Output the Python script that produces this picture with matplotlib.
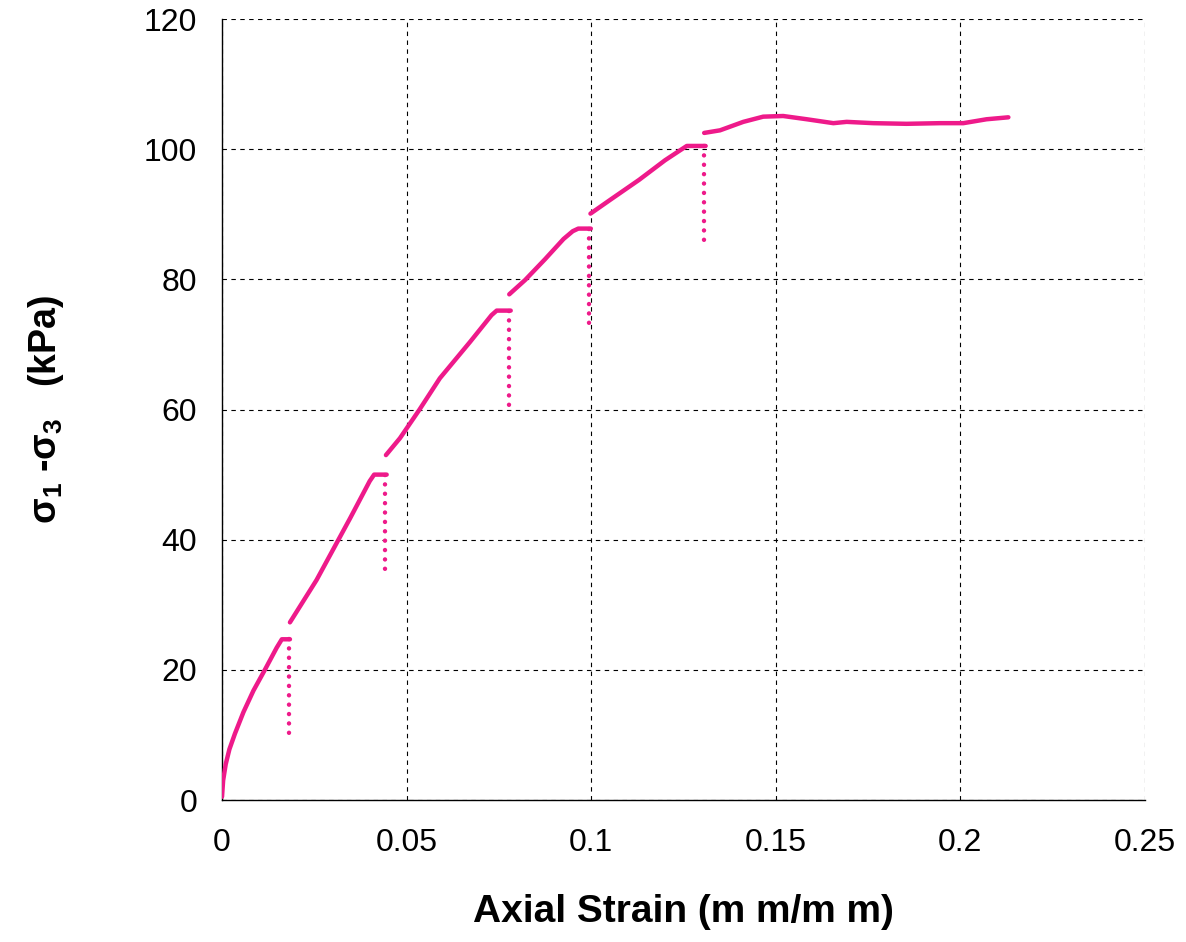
import matplotlib
matplotlib.use("Agg")
import matplotlib.pyplot as plt

plt.rcParams['font.family'] = ['Liberation Sans', 'DejaVu Sans']
plt.rcParams['mathtext.fontset'] = 'custom'
plt.rcParams['mathtext.rm'] = 'Liberation Sans'
plt.rcParams['mathtext.bf'] = 'Liberation Sans:bold'

# Solid loading segments (axial strain, deviator stress kPa)
seg1_x = [0, 0.0003, 0.0010, 0.0020, 0.0035, 0.0058, 0.0085, 0.0116, 0.0148, 0.0162, 0.0184]
seg1_y = [0.5, 3.0, 5.5, 7.8, 10.2, 13.5, 16.8, 20.0, 23.4, 24.7, 24.7]
seg2_x = [0.0184, 0.0256, 0.0347, 0.0400, 0.0412, 0.0446]
seg2_y = [27.3, 33.8, 43.3, 49.0, 50.0, 50.0]
seg3_x = [0.0444, 0.0482, 0.0535, 0.0590, 0.0672, 0.0730, 0.0744, 0.0782]
seg3_y = [53.0, 55.6, 60.0, 64.8, 70.4, 74.5, 75.2, 75.2]
seg4_x = [0.0778, 0.0821, 0.0875, 0.0925, 0.0950, 0.0965, 0.0999]
seg4_y = [77.7, 79.9, 83.1, 86.2, 87.4, 87.8, 87.8]
seg5_x = [0.0998, 0.1051, 0.1130, 0.1200, 0.1240, 0.1259, 0.1310]
seg5_y = [90.1, 92.2, 95.3, 98.3, 99.8, 100.5, 100.5]
seg6_x = [0.1306, 0.1349, 0.1412, 0.1466, 0.1520, 0.1584, 0.1656, 0.1692, 0.1764,
          0.1854, 0.1945, 0.2008, 0.2071, 0.2130]
seg6_y = [102.5, 102.9, 104.2, 105.0, 105.1, 104.6, 104.0, 104.2, 104.0,
          103.9, 104.0, 104.0, 104.6, 104.9]

# Dotted unload drops: strain, top stress, bottom stress
drop_x = [0.0182, 0.0441, 0.0776, 0.0995, 0.1306]
drop_top = [24.7, 50.0, 75.2, 87.8, 100.5]
drop_bot = [9.5, 34.8, 60.1, 72.7, 85.3]

x_ticks = [0, 0.05, 0.1, 0.15, 0.2, 0.25]
x_labels = ['0', '0.05', '0.1', '0.15', '0.2', '0.25']
y_ticks = [0, 20, 40, 60, 80, 100, 120]

color = '#EE1A8A'

fig = plt.figure(figsize=(11.86, 9.42), dpi=100)
ax = fig.add_axes([0.1872, 0.1507, 0.7782, 0.8291])

for sx, sy in [(seg1_x, seg1_y), (seg2_x, seg2_y), (seg3_x, seg3_y),
               (seg4_x, seg4_y), (seg5_x, seg5_y), (seg6_x, seg6_y)]:
    ax.plot(sx, sy, color=color, lw=3.2, solid_capstyle='round', solid_joinstyle='round', zorder=3)

for dx, dt, db in zip(drop_x, drop_top, drop_bot):
    ax.plot([dx, dx], [dt, db], color=color, lw=3.2, ls=(0, (0.01, 2.1)),
            dash_capstyle='round', zorder=3)

ax.set_xlim(0, 0.25)
ax.set_ylim(0, 120)
ax.set_xticks(x_ticks)
ax.set_xticklabels(x_labels)
ax.set_yticks(y_ticks)
ax.tick_params(length=0, labelsize=23)
ax.tick_params(axis='x', pad=20)
ax.tick_params(axis='y', pad=18)
ax.grid(True, color='black', lw=0.8, ls=(0, (4, 4)))
ax.set_axisbelow(True)
for s in ['top', 'right']:
    ax.spines[s].set_visible(False)
for s in ['left', 'bottom']:
    ax.spines[s].set_linewidth(1.0)

ax.set_xlabel('Axial Strain (m m/m m)', fontsize=28, fontweight='bold', labelpad=26)
ax.set_ylabel(r'$\mathbf{\sigma}_{\mathbf{1}}$ -$\mathbf{\sigma}_{\mathbf{3}}$   (kPa)', fontsize=27,
              fontweight='bold', labelpad=56)

fig.savefig('out.png', dpi=100)
